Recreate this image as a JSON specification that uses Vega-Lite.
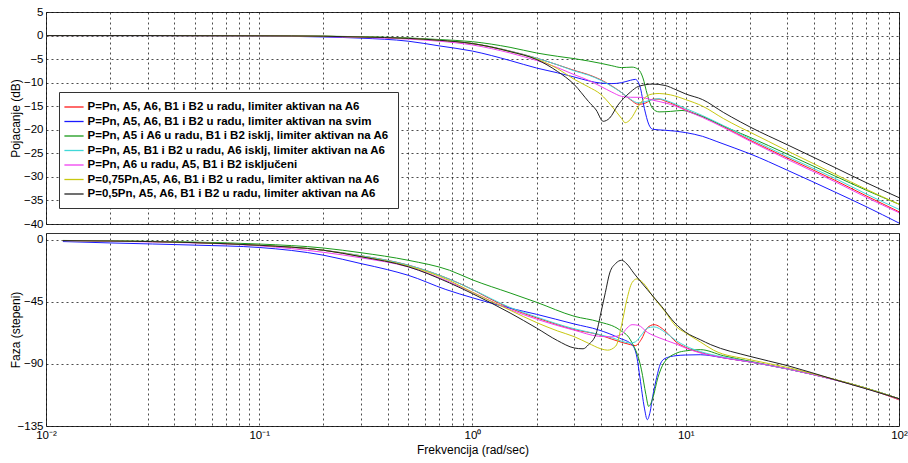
{
"$schema":"https://vega.github.io/schema/vega-lite/v6.json",
"background":"white",
"padding":{"left":8,"top":5,"right":5,"bottom":2},
"spacing":2,
"config":{
"view":{"stroke":"#333","strokeWidth":1},
"axis":{"labelFont":"Liberation Sans","titleFont":"Liberation Sans","labelFontSize":11.5,"titleFontSize":12,"titleFontWeight":"normal","labelColor":"#000","titleColor":"#000","gridColor":"#000","gridDash":[2,3],"gridOpacity":0.7,"gridWidth":1,"ticks":false,"domain":false,"labelPadding":3}
},
"datasets":{
"names":[
{"k":"A","s":"P=Pn, A5, A6, B1 i B2 u radu, limiter aktivan na A6"},
{"k":"B","s":"P=Pn, A5, A6, B1 i B2 u radu, limiter aktivan na svim"},
{"k":"C","s":"P=Pn, A5 i A6 u radu, B1 i B2 isklj, limiter aktivan na A6"},
{"k":"D","s":"P=Pn, A5, B1 i B2 u radu, A6 isklj, limiter aktivan na A6"},
{"k":"E","s":"P=Pn, A6 u radu, A5, B1 i B2 isključeni"},
{"k":"F","s":"P=0,75Pn,A5, A6, B1 i B2 u radu, limiter aktivan na A6"},
{"k":"G","s":"P=0,5Pn, A5, A6, B1 i B2 u radu, limiter aktivan na A6"}
],
"mag":[
{"k":"A","f":0.01,"m":0},{"k":"A","f":0.03,"m":0},{"k":"A","f":0.1,"m":-0.05},{"k":"A","f":0.2,"m":-0.15},{"k":"A","f":0.3,"m":-0.3},{"k":"A","f":0.5,"m":-0.6},{"k":"A","f":0.7,"m":-1.0},{"k":"A","f":1,"m":-1.7},{"k":"A","f":1.5,"m":-3.3},{"k":"A","f":2,"m":-4.8},{"k":"A","f":2.5,"m":-6.2},{"k":"A","f":3,"m":-7.4},{"k":"A","f":3.5,"m":-8.3},{"k":"A","f":4,"m":-9.4},{"k":"A","f":4.5,"m":-10.7},{"k":"A","f":5,"m":-12.1},{"k":"A","f":5.5,"m":-13.6},{"k":"A","f":6,"m":-14.6},{"k":"A","f":6.5,"m":-14.3},{"k":"A","f":7,"m":-13.5},{"k":"A","f":7.5,"m":-13.5},{"k":"A","f":8,"m":-13.9},{"k":"A","f":9,"m":-14.8},{"k":"A","f":10,"m":-15.8},{"k":"A","f":12,"m":-17.2},{"k":"A","f":15,"m":-19.3},{"k":"A","f":20,"m":-22.2},{"k":"A","f":30,"m":-26.0},{"k":"A","f":50,"m":-30.7},{"k":"A","f":70,"m":-34.0},{"k":"A","f":100,"m":-37.4},
{"k":"B","f":0.01,"m":0},{"k":"B","f":0.03,"m":-0.01},{"k":"B","f":0.1,"m":-0.1},{"k":"B","f":0.2,"m":-0.3},{"k":"B","f":0.3,"m":-0.55},{"k":"B","f":0.5,"m":-1.2},{"k":"B","f":0.7,"m":-2.2},{"k":"B","f":1,"m":-3.3},{"k":"B","f":1.5,"m":-5.3},{"k":"B","f":2,"m":-6.9},{"k":"B","f":2.5,"m":-7.9},{"k":"B","f":3,"m":-8.8},{"k":"B","f":3.5,"m":-9.6},{"k":"B","f":4,"m":-10.1},{"k":"B","f":4.5,"m":-10.2},{"k":"B","f":5,"m":-10.0},{"k":"B","f":5.5,"m":-9.5},{"k":"B","f":5.8,"m":-9.3},{"k":"B","f":6.1,"m":-10.8},{"k":"B","f":6.4,"m":-15.5},{"k":"B","f":6.7,"m":-18.8},{"k":"B","f":7,"m":-19.9},{"k":"B","f":8,"m":-20.1},{"k":"B","f":9,"m":-20.3},{"k":"B","f":10,"m":-20.6},{"k":"B","f":12,"m":-21.4},{"k":"B","f":14,"m":-22.5},{"k":"B","f":17,"m":-23.9},{"k":"B","f":20,"m":-25.1},{"k":"B","f":30,"m":-28.6},{"k":"B","f":50,"m":-33.2},{"k":"B","f":70,"m":-36.3},{"k":"B","f":100,"m":-39.8},
{"k":"C","f":0.01,"m":0},{"k":"C","f":0.03,"m":0},{"k":"C","f":0.1,"m":-0.04},{"k":"C","f":0.2,"m":-0.12},{"k":"C","f":0.3,"m":-0.25},{"k":"C","f":0.5,"m":-0.5},{"k":"C","f":0.7,"m":-0.85},{"k":"C","f":1,"m":-1.3},{"k":"C","f":1.5,"m":-2.5},{"k":"C","f":2,"m":-3.7},{"k":"C","f":2.5,"m":-4.4},{"k":"C","f":3,"m":-4.9},{"k":"C","f":3.5,"m":-5.4},{"k":"C","f":4,"m":-5.9},{"k":"C","f":4.5,"m":-6.4},{"k":"C","f":5,"m":-6.8},{"k":"C","f":5.6,"m":-6.7},{"k":"C","f":6,"m":-7.2},{"k":"C","f":6.3,"m":-9.0},{"k":"C","f":6.6,"m":-12.5},{"k":"C","f":7,"m":-15.5},{"k":"C","f":7.5,"m":-16.2},{"k":"C","f":8.5,"m":-16.1},{"k":"C","f":9.6,"m":-15.9},{"k":"C","f":11,"m":-16.6},{"k":"C","f":12,"m":-17.2},{"k":"C","f":15,"m":-19.2},{"k":"C","f":20,"m":-21.6},{"k":"C","f":30,"m":-25.2},{"k":"C","f":50,"m":-29.8},{"k":"C","f":70,"m":-32.8},{"k":"C","f":100,"m":-35.8},
{"k":"D","f":0.01,"m":0},{"k":"D","f":0.03,"m":0},{"k":"D","f":0.1,"m":-0.05},{"k":"D","f":0.2,"m":-0.15},{"k":"D","f":0.3,"m":-0.3},{"k":"D","f":0.5,"m":-0.6},{"k":"D","f":0.7,"m":-1.0},{"k":"D","f":1,"m":-1.7},{"k":"D","f":1.5,"m":-3.3},{"k":"D","f":2,"m":-4.8},{"k":"D","f":2.5,"m":-6.2},{"k":"D","f":3,"m":-7.5},{"k":"D","f":3.5,"m":-8.4},{"k":"D","f":4,"m":-9.5},{"k":"D","f":4.5,"m":-10.8},{"k":"D","f":5,"m":-12.1},{"k":"D","f":5.5,"m":-13.5},{"k":"D","f":6,"m":-14.3},{"k":"D","f":6.5,"m":-14.0},{"k":"D","f":7,"m":-13.6},{"k":"D","f":7.5,"m":-13.4},{"k":"D","f":8,"m":-13.7},{"k":"D","f":9,"m":-14.6},{"k":"D","f":10,"m":-15.5},{"k":"D","f":12,"m":-17.0},{"k":"D","f":15,"m":-19.1},{"k":"D","f":20,"m":-21.9},{"k":"D","f":30,"m":-25.7},{"k":"D","f":50,"m":-30.3},{"k":"D","f":70,"m":-33.6},{"k":"D","f":100,"m":-36.9},
{"k":"E","f":0.01,"m":0},{"k":"E","f":0.03,"m":0},{"k":"E","f":0.1,"m":-0.07},{"k":"E","f":0.2,"m":-0.2},{"k":"E","f":0.3,"m":-0.4},{"k":"E","f":0.5,"m":-0.75},{"k":"E","f":0.7,"m":-1.2},{"k":"E","f":1,"m":-2.0},{"k":"E","f":1.5,"m":-3.7},{"k":"E","f":2,"m":-5.3},{"k":"E","f":2.5,"m":-6.8},{"k":"E","f":3,"m":-8.3},{"k":"E","f":3.5,"m":-9.5},{"k":"E","f":4,"m":-10.8},{"k":"E","f":4.5,"m":-12.0},{"k":"E","f":5,"m":-12.9},{"k":"E","f":5.5,"m":-13.1},{"k":"E","f":6,"m":-13.1},{"k":"E","f":6.5,"m":-13.3},{"k":"E","f":7,"m":-13.7},{"k":"E","f":8,"m":-14.3},{"k":"E","f":9,"m":-15.0},{"k":"E","f":10,"m":-15.9},{"k":"E","f":12,"m":-17.4},{"k":"E","f":15,"m":-19.5},{"k":"E","f":20,"m":-22.4},{"k":"E","f":30,"m":-26.3},{"k":"E","f":50,"m":-31.0},{"k":"E","f":70,"m":-34.3},{"k":"E","f":100,"m":-37.6},
{"k":"F","f":0.01,"m":0},{"k":"F","f":0.03,"m":0},{"k":"F","f":0.1,"m":-0.05},{"k":"F","f":0.2,"m":-0.15},{"k":"F","f":0.3,"m":-0.3},{"k":"F","f":0.5,"m":-0.6},{"k":"F","f":0.7,"m":-1.0},{"k":"F","f":1,"m":-1.7},{"k":"F","f":1.5,"m":-3.4},{"k":"F","f":2,"m":-5.0},{"k":"F","f":2.5,"m":-7.0},{"k":"F","f":3,"m":-9.3},{"k":"F","f":3.5,"m":-10.9},{"k":"F","f":4,"m":-12.5},{"k":"F","f":4.5,"m":-15.0},{"k":"F","f":5,"m":-17.6},{"k":"F","f":5.2,"m":-18.5},{"k":"F","f":5.5,"m":-17.8},{"k":"F","f":6,"m":-15.0},{"k":"F","f":6.5,"m":-13.0},{"k":"F","f":7,"m":-12.4},{"k":"F","f":7.5,"m":-12.3},{"k":"F","f":8.5,"m":-12.6},{"k":"F","f":10,"m":-13.6},{"k":"F","f":12,"m":-15.0},{"k":"F","f":15,"m":-17.6},{"k":"F","f":18,"m":-19.5},{"k":"F","f":20,"m":-20.5},{"k":"F","f":30,"m":-24.5},{"k":"F","f":50,"m":-29.4},{"k":"F","f":70,"m":-32.6},{"k":"F","f":100,"m":-35.8},
{"k":"G","f":0.01,"m":0},{"k":"G","f":0.03,"m":0},{"k":"G","f":0.1,"m":-0.05},{"k":"G","f":0.2,"m":-0.15},{"k":"G","f":0.3,"m":-0.3},{"k":"G","f":0.5,"m":-0.6},{"k":"G","f":0.7,"m":-1.0},{"k":"G","f":1,"m":-1.7},{"k":"G","f":1.5,"m":-3.4},{"k":"G","f":2,"m":-5.1},{"k":"G","f":2.5,"m":-7.6},{"k":"G","f":3,"m":-10.4},{"k":"G","f":3.5,"m":-14.0},{"k":"G","f":3.8,"m":-15.8},{"k":"G","f":4.1,"m":-18.2},{"k":"G","f":4.4,"m":-17.5},{"k":"G","f":4.8,"m":-14.8},{"k":"G","f":5.1,"m":-13.4},{"k":"G","f":5.5,"m":-12.0},{"k":"G","f":6,"m":-10.8},{"k":"G","f":7,"m":-10.3},{"k":"G","f":8,"m":-10.6},{"k":"G","f":9,"m":-11.5},{"k":"G","f":10,"m":-12.4},{"k":"G","f":12,"m":-13.6},{"k":"G","f":15,"m":-16.3},{"k":"G","f":18,"m":-18.3},{"k":"G","f":20,"m":-19.4},{"k":"G","f":30,"m":-23.2},{"k":"G","f":50,"m":-28.0},{"k":"G","f":70,"m":-31.2},{"k":"G","f":100,"m":-34.4}
],
"ph":[
{"k":"A","f":0.012,"p":-0.5},{"k":"A","f":0.02,"p":-0.8},{"k":"A","f":0.05,"p":-2},{"k":"A","f":0.1,"p":-3.9},{"k":"A","f":0.2,"p":-7.5},{"k":"A","f":0.3,"p":-11.5},{"k":"A","f":0.5,"p":-18.3},{"k":"A","f":0.78,"p":-28.5},{"k":"A","f":1,"p":-36},{"k":"A","f":1.2,"p":-42.5},{"k":"A","f":1.5,"p":-49.5},{"k":"A","f":2,"p":-56.6},{"k":"A","f":2.5,"p":-61.5},{"k":"A","f":3,"p":-65.1},{"k":"A","f":3.9,"p":-68.7},{"k":"A","f":4.5,"p":-72},{"k":"A","f":5.5,"p":-76},{"k":"A","f":5.8,"p":-76.7},{"k":"A","f":6.2,"p":-72},{"k":"A","f":6.6,"p":-63.8},{"k":"A","f":7.1,"p":-61.5},{"k":"A","f":8,"p":-66},{"k":"A","f":9,"p":-74},{"k":"A","f":10,"p":-78},{"k":"A","f":11.7,"p":-81.6},{"k":"A","f":15,"p":-85.5},{"k":"A","f":20,"p":-88.5},{"k":"A","f":30,"p":-93.6},{"k":"A","f":50,"p":-101.4},{"k":"A","f":70,"p":-107.5},{"k":"A","f":100,"p":-116},
{"k":"B","f":0.012,"p":-1.2},{"k":"B","f":0.02,"p":-2.2},{"k":"B","f":0.05,"p":-3.8},{"k":"B","f":0.1,"p":-5.5},{"k":"B","f":0.2,"p":-11.1},{"k":"B","f":0.3,"p":-17.2},{"k":"B","f":0.4,"p":-21.6},{"k":"B","f":0.5,"p":-25.7},{"k":"B","f":0.75,"p":-36},{"k":"B","f":1,"p":-42},{"k":"B","f":1.5,"p":-49.5},{"k":"B","f":2,"p":-54},{"k":"B","f":3,"p":-61},{"k":"B","f":3.9,"p":-65.3},{"k":"B","f":4.9,"p":-71.3},{"k":"B","f":5.6,"p":-76.1},{"k":"B","f":5.9,"p":-85},{"k":"B","f":6.1,"p":-100},{"k":"B","f":6.4,"p":-122},{"k":"B","f":6.6,"p":-130.4},{"k":"B","f":6.8,"p":-125},{"k":"B","f":7,"p":-113.5},{"k":"B","f":7.3,"p":-100},{"k":"B","f":7.6,"p":-90},{"k":"B","f":8,"p":-86},{"k":"B","f":9,"p":-84},{"k":"B","f":10,"p":-83.5},{"k":"B","f":11.7,"p":-83.3},{"k":"B","f":15,"p":-85.5},{"k":"B","f":20,"p":-88.5},{"k":"B","f":30,"p":-93.6},{"k":"B","f":50,"p":-101.4},{"k":"B","f":70,"p":-107.5},{"k":"B","f":100,"p":-115.2},
{"k":"C","f":0.012,"p":-0.4},{"k":"C","f":0.02,"p":-0.7},{"k":"C","f":0.05,"p":-1.6},{"k":"C","f":0.1,"p":-3.0},{"k":"C","f":0.2,"p":-5.9},{"k":"C","f":0.3,"p":-9.3},{"k":"C","f":0.5,"p":-14.8},{"k":"C","f":0.78,"p":-22},{"k":"C","f":1,"p":-29},{"k":"C","f":1.5,"p":-38.5},{"k":"C","f":2,"p":-45.3},{"k":"C","f":3,"p":-55.4},{"k":"C","f":3.9,"p":-59.3},{"k":"C","f":4.9,"p":-65.3},{"k":"C","f":5.5,"p":-72.5},{"k":"C","f":6.2,"p":-94.3},{"k":"C","f":6.5,"p":-112},{"k":"C","f":6.7,"p":-120.8},{"k":"C","f":7,"p":-115},{"k":"C","f":7.4,"p":-100},{"k":"C","f":7.9,"p":-89.3},{"k":"C","f":9.1,"p":-82},{"k":"C","f":10,"p":-80.5},{"k":"C","f":11.7,"p":-79.6},{"k":"C","f":15,"p":-84},{"k":"C","f":20,"p":-88},{"k":"C","f":30,"p":-93.6},{"k":"C","f":50,"p":-101.4},{"k":"C","f":70,"p":-107.5},{"k":"C","f":100,"p":-115.2},
{"k":"D","f":0.012,"p":-0.5},{"k":"D","f":0.02,"p":-0.8},{"k":"D","f":0.05,"p":-2},{"k":"D","f":0.1,"p":-3.9},{"k":"D","f":0.2,"p":-7.5},{"k":"D","f":0.3,"p":-11.5},{"k":"D","f":0.5,"p":-18.3},{"k":"D","f":0.78,"p":-28.5},{"k":"D","f":1,"p":-36},{"k":"D","f":1.5,"p":-49},{"k":"D","f":2,"p":-56},{"k":"D","f":3,"p":-64.5},{"k":"D","f":3.9,"p":-68.5},{"k":"D","f":4.5,"p":-71},{"k":"D","f":5.5,"p":-74.8},{"k":"D","f":5.8,"p":-74},{"k":"D","f":6.2,"p":-69},{"k":"D","f":6.6,"p":-64},{"k":"D","f":7.1,"p":-63.1},{"k":"D","f":8,"p":-67},{"k":"D","f":9,"p":-73},{"k":"D","f":10,"p":-77},{"k":"D","f":11.7,"p":-81},{"k":"D","f":15,"p":-85},{"k":"D","f":20,"p":-88.5},{"k":"D","f":30,"p":-93.6},{"k":"D","f":50,"p":-101.4},{"k":"D","f":70,"p":-107.5},{"k":"D","f":100,"p":-115.5},
{"k":"E","f":0.012,"p":-0.5},{"k":"E","f":0.02,"p":-1},{"k":"E","f":0.05,"p":-2.2},{"k":"E","f":0.1,"p":-4.3},{"k":"E","f":0.2,"p":-9.0},{"k":"E","f":0.3,"p":-13},{"k":"E","f":0.5,"p":-19.6},{"k":"E","f":0.78,"p":-30.5},{"k":"E","f":1,"p":-38},{"k":"E","f":1.5,"p":-50.5},{"k":"E","f":2,"p":-57.5},{"k":"E","f":3,"p":-65.5},{"k":"E","f":3.9,"p":-69.9},{"k":"E","f":4.5,"p":-70.3},{"k":"E","f":5,"p":-68.5},{"k":"E","f":5.3,"p":-64},{"k":"E","f":5.6,"p":-61.5},{"k":"E","f":6,"p":-62},{"k":"E","f":6.6,"p":-67},{"k":"E","f":7.5,"p":-71},{"k":"E","f":9,"p":-75.5},{"k":"E","f":10,"p":-78.5},{"k":"E","f":11.7,"p":-82},{"k":"E","f":15,"p":-85.5},{"k":"E","f":20,"p":-88.5},{"k":"E","f":30,"p":-93.6},{"k":"E","f":50,"p":-101.6},{"k":"E","f":70,"p":-107.8},{"k":"E","f":100,"p":-115.5},
{"k":"F","f":0.012,"p":-0.5},{"k":"F","f":0.02,"p":-0.8},{"k":"F","f":0.05,"p":-2},{"k":"F","f":0.1,"p":-3.9},{"k":"F","f":0.2,"p":-7.5},{"k":"F","f":0.3,"p":-12},{"k":"F","f":0.5,"p":-19},{"k":"F","f":0.78,"p":-29.5},{"k":"F","f":1,"p":-38},{"k":"F","f":1.5,"p":-51},{"k":"F","f":2,"p":-60},{"k":"F","f":2.5,"p":-66},{"k":"F","f":3,"p":-70.2},{"k":"F","f":3.5,"p":-75},{"k":"F","f":4,"p":-79},{"k":"F","f":4.3,"p":-80},{"k":"F","f":4.7,"p":-77},{"k":"F","f":5,"p":-62},{"k":"F","f":5.3,"p":-43},{"k":"F","f":5.6,"p":-31},{"k":"F","f":5.9,"p":-28.3},{"k":"F","f":6.3,"p":-31},{"k":"F","f":7,"p":-40.9},{"k":"F","f":8,"p":-52},{"k":"F","f":9,"p":-62.7},{"k":"F","f":10,"p":-67.5},{"k":"F","f":11.7,"p":-74},{"k":"F","f":13.5,"p":-80},{"k":"F","f":20,"p":-86.9},{"k":"F","f":30,"p":-92.5},{"k":"F","f":50,"p":-101.2},{"k":"F","f":70,"p":-107.5},{"k":"F","f":100,"p":-115.2},
{"k":"G","f":0.012,"p":-0.5},{"k":"G","f":0.02,"p":-0.8},{"k":"G","f":0.05,"p":-2},{"k":"G","f":0.1,"p":-3.9},{"k":"G","f":0.2,"p":-7.5},{"k":"G","f":0.3,"p":-12.2},{"k":"G","f":0.5,"p":-19.5},{"k":"G","f":0.78,"p":-31.2},{"k":"G","f":1,"p":-39},{"k":"G","f":1.5,"p":-53},{"k":"G","f":2,"p":-64},{"k":"G","f":2.5,"p":-73},{"k":"G","f":3,"p":-78.4},{"k":"G","f":3.3,"p":-79},{"k":"G","f":3.5,"p":-76},{"k":"G","f":3.8,"p":-68},{"k":"G","f":4,"p":-53},{"k":"G","f":4.2,"p":-38},{"k":"G","f":4.4,"p":-24},{"k":"G","f":4.7,"p":-17},{"k":"G","f":5,"p":-14.8},{"k":"G","f":5.3,"p":-17.5},{"k":"G","f":5.7,"p":-24},{"k":"G","f":6.6,"p":-36},{"k":"G","f":7.7,"p":-48.2},{"k":"G","f":8.9,"p":-60.3},{"k":"G","f":10,"p":-67},{"k":"G","f":11.7,"p":-72.4},{"k":"G","f":13.1,"p":-76},{"k":"G","f":20,"p":-84.5},{"k":"G","f":30,"p":-91.2},{"k":"G","f":50,"p":-101.4},{"k":"G","f":70,"p":-108},{"k":"G","f":100,"p":-115.2}
]
},
"vconcat":[
{
"width":853,"height":212,
"data":{"name":"mag"},
"transform":[{"lookup":"k","from":{"data":{"name":"names"},"key":"k","fields":["s"]}}],
"mark":{"type":"line","strokeWidth":1,"interpolate":"monotone","clip":true},
"encoding":{
"x":{"field":"f","type":"quantitative","scale":{"type":"log","domain":[0.01,100],"nice":false},"axis":{"values":[0.01,0.02,0.03,0.04,0.05,0.06,0.07,0.08,0.09,0.1,0.2,0.3,0.4,0.5,0.6,0.7,0.8,0.9,1,2,3,4,5,6,7,8,9,10,20,30,40,50,60,70,80,90,100],"labels":false,"title":null,"grid":true}},
"y":{"field":"m","type":"quantitative","scale":{"domain":[-40,5],"nice":false,"zero":false},"axis":{"values":[-40,-35,-30,-25,-20,-15,-10,-5,0,5],"title":"Pojacanje (dB)","titleX":-31,"titleBaseline":"middle","grid":true}},
"color":{"field":"s","type":"nominal","scale":{"domain":["P=Pn, A5, A6, B1 i B2 u radu, limiter aktivan na A6","P=Pn, A5, A6, B1 i B2 u radu, limiter aktivan na svim","P=Pn, A5 i A6 u radu, B1 i B2 isklj, limiter aktivan na A6","P=Pn, A5, B1 i B2 u radu, A6 isklj, limiter aktivan na A6","P=Pn, A6 u radu, A5, B1 i B2 isključeni","P=0,75Pn,A5, A6, B1 i B2 u radu, limiter aktivan na A6","P=0,5Pn, A5, A6, B1 i B2 u radu, limiter aktivan na A6"],"range":["#ff1a1a","#1a1aff","#1a9a1a","#40d8d8","#f040f0","#c8c810","#222222"]},
"legend":{"orient":"none","legendX":13,"legendY":80,"title":null,"symbolType":"M-1.6,0H1.6","symbolSize":144,"symbolStrokeWidth":1.3,"symbolFillColor":"transparent","labelFont":"Liberation Sans","labelFontSize":11.5,"labelFontWeight":"bold","labelColor":"#000","labelLimit":500,"labelOffset":6.5,"fillColor":"white","strokeColor":"#333","padding":8,"rowPadding":1.5}}
}
},
{
"width":853,"height":193,
"data":{"name":"ph"},
"transform":[{"lookup":"k","from":{"data":{"name":"names"},"key":"k","fields":["s"]}}],
"mark":{"type":"line","strokeWidth":1,"interpolate":"monotone","clip":true},
"encoding":{
"x":{"field":"f","type":"quantitative","scale":{"type":"log","domain":[0.01,100],"nice":false},"axis":{"values":[0.01,0.02,0.03,0.04,0.05,0.06,0.07,0.08,0.09,0.1,0.2,0.3,0.4,0.5,0.6,0.7,0.8,0.9,1,2,3,4,5,6,7,8,9,10,20,30,40,50,60,70,80,90,100],"labelExpr":"datum.value==0.01?'10⁻²':datum.value==0.1?'10⁻¹':datum.value==1?'10⁰':datum.value==10?'10¹':datum.value==100?'10²':''","labelFlush":false,"labelOverlap":false,"title":"Frekvencija  (rad/sec)","titlePadding":4,"grid":true}},
"y":{"field":"p","type":"quantitative","scale":{"domain":[-135,5],"nice":false,"zero":false},"axis":{"values":[-135,-90,-45,0],"title":"Faza (stepeni)","titleX":-31,"titleBaseline":"middle","grid":true}},
"color":{"field":"s","type":"nominal"}
}
}
]
}
